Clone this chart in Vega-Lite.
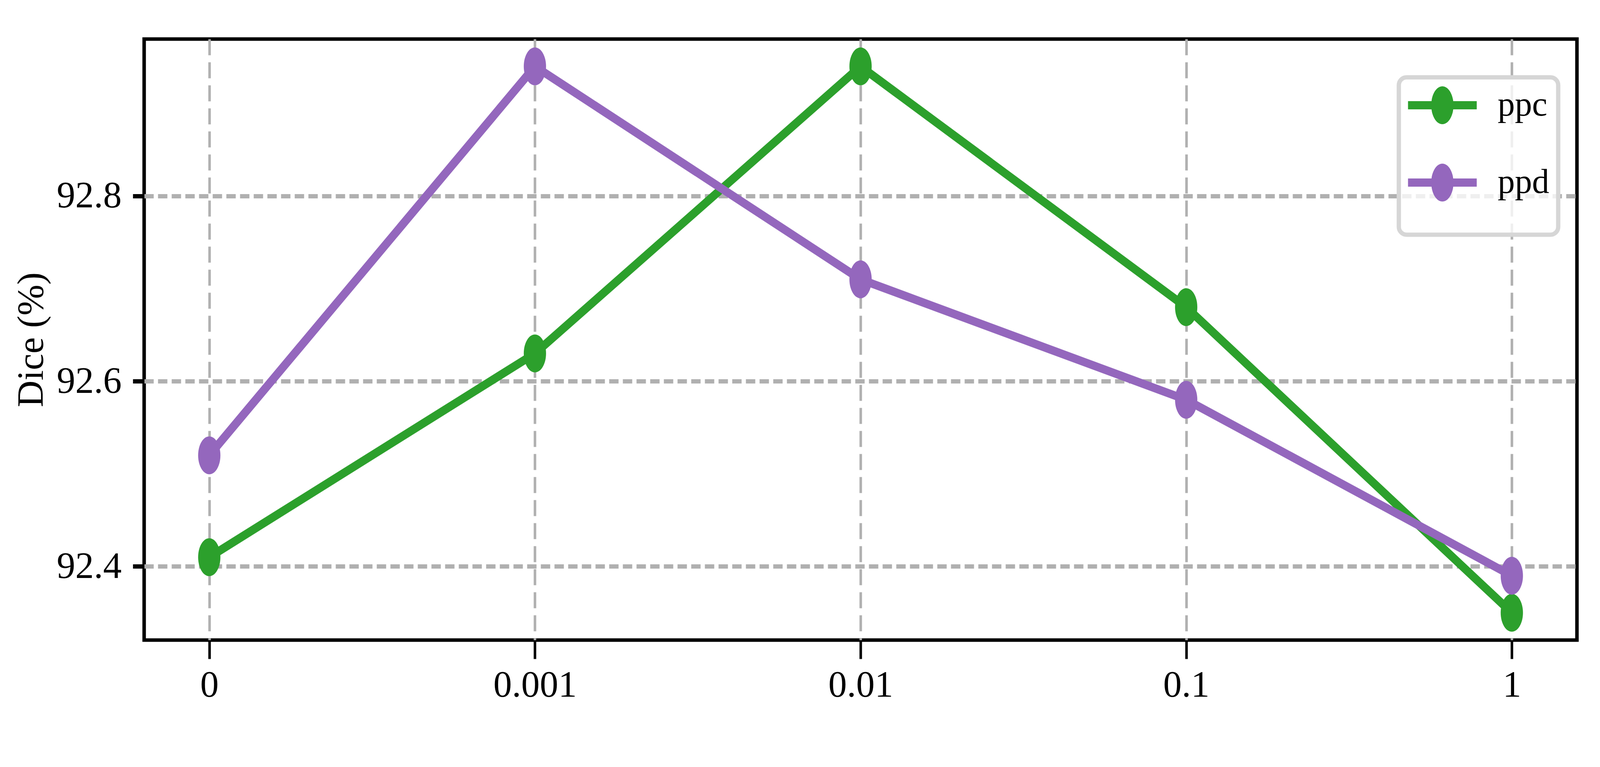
{
  "$schema": "https://vega.github.io/schema/vega-lite/v6.json",
  "width": 3668,
  "height": 1539,
  "autosize": {"type": "none"},
  "padding": {"left": 369, "top": 100, "right": 59, "bottom": 325},
  "background": "white",
  "data": {
    "values": [
      {"lr": "0", "series": "ppc", "dice": 92.41},
      {"lr": "0.001", "series": "ppc", "dice": 92.63},
      {"lr": "0.01", "series": "ppc", "dice": 92.94},
      {"lr": "0.1", "series": "ppc", "dice": 92.68},
      {"lr": "1", "series": "ppc", "dice": 92.35},
      {"lr": "0", "series": "ppd", "dice": 92.52},
      {"lr": "0.001", "series": "ppd", "dice": 92.94},
      {"lr": "0.01", "series": "ppd", "dice": 92.71},
      {"lr": "0.1", "series": "ppd", "dice": 92.58},
      {"lr": "1", "series": "ppd", "dice": 92.39}
    ]
  },
  "encoding": {
    "x": {
      "field": "lr",
      "type": "ordinal",
      "sort": ["0", "0.001", "0.01", "0.1", "1"],
      "scale": {"type": "point", "padding": 0.2},
      "title": null,
      "axis": {
        "labelAngle": 0,
        "labelPadding": 21,
        "tickSize": 48,
        "tickWidth": 6.5,
        "gridDash": [41, 18],
        "gridWidth": 6.5
      }
    },
    "y": {
      "field": "dice",
      "type": "quantitative",
      "title": "Dice (%)",
      "scale": {"domain": [92.3205, 92.9695], "nice": false, "zero": false},
      "axis": {
        "values": [92.4, 92.6, 92.8],
        "format": ".1f",
        "tickSize": 29,
        "tickWidth": 11,
        "labelPadding": 29,
        "titlePadding": 40,
        "gridDash": [24, 11],
        "gridWidth": 11
      }
    },
    "color": {
      "field": "series",
      "type": "nominal",
      "scale": {"domain": ["ppc", "ppd"], "range": ["#2ca02c", "#9467bd"]},
      "legend": {
        "title": null,
        "orient": "none",
        "legendX": 3212,
        "legendY": 98,
        "symbolType": "M-1.814,-0.2165L1.814,-0.2165L1.814,0.2165L-1.814,0.2165Z M0.588,0A0.588,1 0 1 1 -0.588,0A0.588,1 0 1 1 0.588,0Z M0,-1.711 M0,2.268",
        "symbolSize": 9409,
        "symbolOffset": 40,
        "symbolStrokeWidth": 0,
        "labelOffset": 93,
        "labelLimit": 0,
        "padding": 23,
        "rowPadding": 4,
        "strokeColor": "#d6d6d6",
        "cornerRadius": 20,
        "fillColor": "rgba(255,255,255,0.8)",
        "labelFont": "Liberation Serif",
        "labelFontSize": 88,
        "labelColor": "black",
        "encode": {
          "legend": {
            "update": {"strokeWidth": {"value": 11}}
          },
          "symbols": {
            "update": {
              "fill": {"scale": "color", "field": "value"},
              "fillOpacity": {"value": 1},
              "opacity": {"value": 1}
            }
          }
        }
      }
    }
  },
  "layer": [
    {
      "mark": {"type": "line", "strokeWidth": 21, "strokeJoin": "round"}
    },
    {
      "mark": {
        "type": "point",
        "shape": "M0.588,0A0.588,1 0 1 1 -0.588,0A0.588,1 0 1 1 0.588,0Z",
        "filled": true,
        "opacity": 1,
        "size": 9409
      }
    }
  ],
  "config": {
    "view": {"stroke": "black", "strokeWidth": 9},
    "font": "Liberation Serif",
    "axis": {
      "domain": false,
      "ticks": true,
      "tickColor": "black",
      "labelFont": "Liberation Serif",
      "labelFontSize": 95,
      "labelColor": "black",
      "labelLimit": 0,
      "titleFont": "Liberation Serif",
      "titleFontSize": 95,
      "titleFontWeight": "normal",
      "titleColor": "black",
      "titleLimit": 0,
      "grid": true,
      "gridColor": "#b0b0b0",
      "gridOpacity": 1
    }
  }
}
